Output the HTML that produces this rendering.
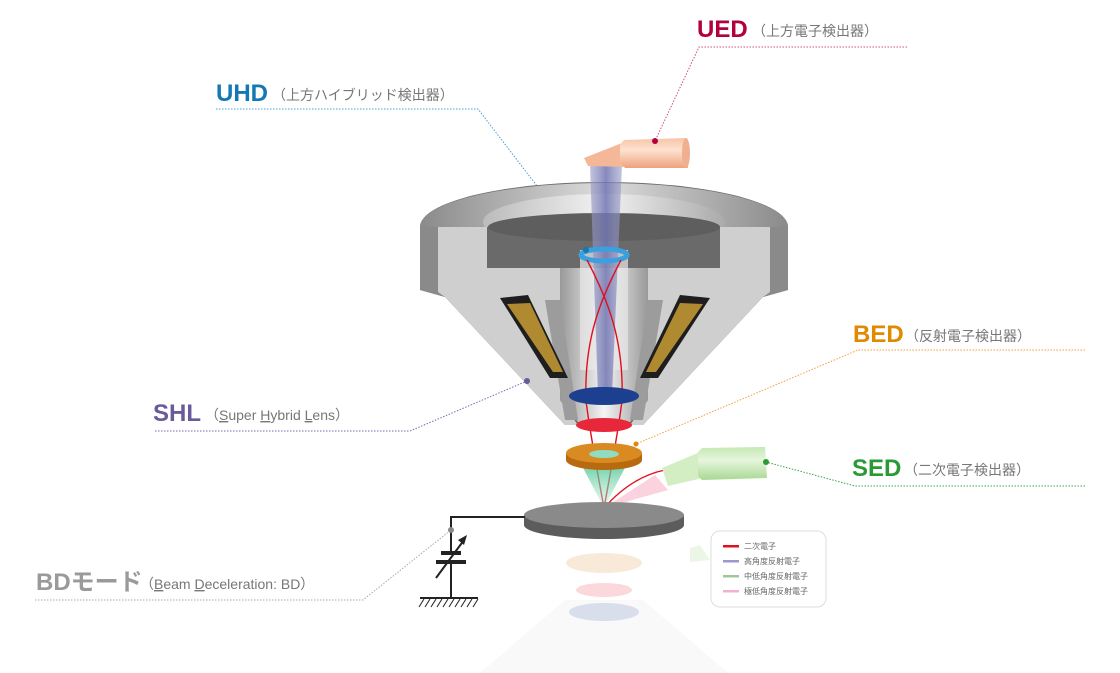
<!DOCTYPE html>
<html><head><meta charset="utf-8"><style>
html,body{margin:0;padding:0;background:#fff;}
svg{display:block;}
text{font-family:"Liberation Sans","Noto Sans CJK JP",sans-serif;}
.t{font-weight:bold;font-size:24px;}
.s{font-size:14px;fill:#777;}
.l{font-size:8px;fill:#666;}
</style></head><body>
<svg width="1120" height="673" viewBox="0 0 1120 673" xmlns="http://www.w3.org/2000/svg">
<defs>
<linearGradient id="top" x1="0" x2="1"><stop offset="0" stop-color="#8a8a8a"/><stop offset=".5" stop-color="#dcdcdc"/><stop offset="1" stop-color="#8a8a8a"/></linearGradient>
<linearGradient id="hole" x1="0" x2="1"><stop offset="0" stop-color="#bbb"/><stop offset=".5" stop-color="#f2f2f2"/><stop offset="1" stop-color="#aaa"/></linearGradient>
<linearGradient id="bore" x1="0" x2="1"><stop offset="0" stop-color="#999"/><stop offset=".5" stop-color="#f4f4f4"/><stop offset="1" stop-color="#999"/></linearGradient>
<linearGradient id="beam" x1="0" x2="1"><stop offset="0" stop-color="#9a9cc8" stop-opacity=".6"/><stop offset=".5" stop-color="#7074b0" stop-opacity=".85"/><stop offset="1" stop-color="#9a9cc8" stop-opacity=".6"/></linearGradient>
<linearGradient id="peach" x1="0" y1="0" x2="0" y2="1"><stop offset="0" stop-color="#f6c4a6"/><stop offset=".4" stop-color="#fde2d0"/><stop offset="1" stop-color="#eea27e"/></linearGradient>
<linearGradient id="grn" x1="0" y1="0" x2="0" y2="1"><stop offset="0" stop-color="#c6e8b4"/><stop offset=".4" stop-color="#e6f6dc"/><stop offset="1" stop-color="#a8d894"/></linearGradient>
<linearGradient id="cone" x1="0" y1="0" x2="0" y2="1"><stop offset="0" stop-color="#3cc08a" stop-opacity=".8"/><stop offset="1" stop-color="#bfeedd" stop-opacity=".4"/></linearGradient>
</defs>

<text x="697" y="37" class="t" fill="#b3003f">UED</text><text x="752" y="36" class="s">（上方電子検出器）</text>
<polyline points="907,47 699,47 655,141" fill="none" stroke="#d05080" stroke-width="1" stroke-dasharray="1.5,1.5"/>

<text x="216" y="101" class="t" fill="#1478b4">UHD</text><text x="272" y="100" class="s">（上方ハイブリッド検出器）</text>
<polyline points="216,109 478,109 586,250" fill="none" stroke="#4aa0d0" stroke-width="1" stroke-dasharray="1.5,1.5"/>

<text x="853" y="342" class="t" fill="#e08a00">BED</text><text x="905" y="341" class="s">（反射電子検出器）</text>
<polyline points="1085,350 858,350 636,444" fill="none" stroke="#f0a040" stroke-width="1" stroke-dasharray="1.5,1.5"/>

<text x="852" y="476" class="t" fill="#2a9a36">SED</text><text x="904" y="475" class="s">（二次電子検出器）</text>
<polyline points="1085,486 855,486 766,462" fill="none" stroke="#40a050" stroke-width="1" stroke-dasharray="1.5,1.5"/>

<text x="153" y="421" class="t" fill="#6a5a9c">SHL</text><text x="205" y="420" class="s">（<tspan text-decoration="underline">S</tspan>uper <tspan text-decoration="underline">H</tspan>ybrid <tspan text-decoration="underline">L</tspan>ens）</text>
<polyline points="155,431 410,431 527,381" fill="none" stroke="#7a6ab0" stroke-width="1" stroke-dasharray="1.5,1.5"/>

<text x="36" y="590" class="t" fill="#9a9a9a">BDモード</text><text x="140" y="589" class="s">（<tspan text-decoration="underline">B</tspan>eam <tspan text-decoration="underline">D</tspan>eceleration: BD）</text>
<polyline points="35,600 363,600 451,530" fill="none" stroke="#aaa" stroke-width="1" stroke-dasharray="1.5,1.5"/>

<!-- reflection (very faint) -->
<g opacity=".12">
<path d="M480,673 L565,600 L643,600 L728,673 Z" fill="#ccc"/>
</g>
<g opacity=".22">
<ellipse cx="604" cy="563" rx="38" ry="10" fill="#e0a050"/>
<ellipse cx="604" cy="590" rx="28" ry="7" fill="#f05060"/>
<ellipse cx="604" cy="612" rx="35" ry="9" fill="#6a80c0"/>
<path d="M690,548 L700,545 L710,560 L690,562 Z" fill="#a8d894"/>
</g>

<!-- lens body -->
<path d="M420,227 A184,45 0 0 1 788,227 L788,290 L763,297 L643,425 L565,425 L445,297 L420,290 Z" fill="#6c6c6c"/>
<ellipse cx="604" cy="227" rx="184" ry="44" fill="url(#top)"/>
<ellipse cx="604" cy="222" rx="121" ry="28" fill="url(#hole)"/>
<path d="M487,227 L487,268 L720,268 L720,227 Z" fill="#6a6a6a"/>
<ellipse cx="604" cy="227" rx="116" ry="14" fill="#5e5e5e"/>
<path d="M420,227 L487,227 L487,268 L560,268 L560,400 L578,425 L565,425 L445,297 L420,290 Z" fill="#cfcfcf"/>
<path d="M788,227 L720,227 L720,268 L648,268 L648,400 L630,425 L643,425 L763,297 L788,290 Z" fill="#cfcfcf"/>
<path d="M420,227 L438,227 L438,292 L445,297 L420,290 Z" fill="#8a8a8a"/>
<path d="M788,227 L770,227 L770,292 L763,297 L788,290 Z" fill="#8a8a8a"/>
<path d="M560,268 L648,268 L648,400 L630,422 L578,422 L560,400 Z" fill="url(#bore)"/>
<path d="M545,300 L560,300 L578,420 L565,420 Z" fill="#9c9c9c"/>
<path d="M663,300 L648,300 L630,420 L643,420 Z" fill="#9c9c9c"/>
<rect x="580" y="250" width="48" height="120" fill="#e8e8e8" opacity=".7"/>
<path d="M500,298 L528,295 L568,378 L550,378 Z" fill="#1e1e1e"/>
<path d="M507,304 L530,303 L563,372 L553,372 Z" fill="#b08a30"/>
<path d="M710,298 L680,295 L640,378 L658,378 Z" fill="#1e1e1e"/>
<path d="M703,304 L680,303 L646,372 L656,372 Z" fill="#b08a30"/>
<circle cx="527" cy="381" r="3" fill="#6a5a9c"/>

<path d="M590,165 L622,165 L612,395 L598,395 Z" fill="url(#beam)"/>
<path d="M584,158 L622,143 L628,167 L588,166 Z" fill="#f4b898"/>
<path d="M620,145 L624,140 L686,138 L688,168 L625,168 L620,162 Z" fill="url(#peach)"/>
<ellipse cx="686" cy="153" rx="4" ry="15" fill="#f0b090"/>
<circle cx="655" cy="141" r="3" fill="#b3003f"/>

<ellipse cx="604" cy="255" rx="23" ry="6" fill="none" stroke="#3aa0e0" stroke-width="5"/>
<circle cx="586" cy="250" r="3" fill="#1478b4"/>

<g fill="none" stroke="#e0101e" stroke-width="1.4">
<path d="M604,508 C597,470 588,420 586,400 C584,340 600,300 621,260"/>
<path d="M604,508 C611,470 620,420 622,400 C624,340 608,300 587,260"/>
<path d="M604,508 C620,490 640,475 665,470"/>
</g>
<ellipse cx="604" cy="396" rx="35" ry="9" fill="#1d3f8f"/>
<ellipse cx="604" cy="425" rx="28" ry="7" fill="#e8283a"/>
<path d="M580,462 L628,462 L604,508 Z" fill="url(#cone)"/>
<path d="M566,453 L566,460 A38,10 0 0 0 642,460 L642,453 Z" fill="#b86a10"/>
<ellipse cx="604" cy="453" rx="38" ry="10" fill="#d98a20"/>
<ellipse cx="604" cy="454" rx="15" ry="4" fill="#8fdcc0"/>
<circle cx="636" cy="444" r="2.5" fill="#e08a00"/>
<path d="M604,508 L655,475 L668,490 Z" fill="#f8c0d0" opacity=".7"/>
<path d="M662,468 L700,452 L703,478 L668,486 Z" fill="#d4eec4"/>
<path d="M698,452 L702,448 L765,447 L767,478 L702,480 L698,476 Z" fill="url(#grn)"/>
<circle cx="766" cy="462" r="3" fill="#2a9a36"/>

<path d="M524,515 L524,525 A80,14 0 0 0 684,525 L684,515 Z" fill="#5c5c5c"/>
<ellipse cx="604" cy="515" rx="80" ry="13" fill="#8a8a8a"/>

<g stroke="#222" stroke-width="2" fill="none">
<polyline points="525,517 451,517 451,551"/>
<line x1="451" y1="564" x2="451" y2="598"/>
<line x1="420" y1="598" x2="478" y2="598"/>
<line x1="436" y1="578" x2="464" y2="540"/>
</g>
<rect x="441" y="551" width="20" height="4" fill="#222"/>
<rect x="436" y="560" width="30" height="4" fill="#222"/>
<path d="M467,535 L458,540 L464,545 Z" fill="#222"/>
<g stroke="#222" stroke-width="1">
<line x1="424" y1="599" x2="419" y2="607"/><line x1="430" y1="599" x2="425" y2="607"/><line x1="436" y1="599" x2="431" y2="607"/><line x1="442" y1="599" x2="437" y2="607"/><line x1="448" y1="599" x2="443" y2="607"/><line x1="454" y1="599" x2="449" y2="607"/><line x1="460" y1="599" x2="455" y2="607"/><line x1="466" y1="599" x2="461" y2="607"/><line x1="472" y1="599" x2="467" y2="607"/><line x1="478" y1="599" x2="473" y2="607"/>
</g>
<circle cx="451" cy="530" r="3" fill="#888"/>

<rect x="711" y="531" width="115" height="76" rx="9" fill="#fff" stroke="#ddd"/>
<rect x="723" y="545" width="16" height="2.5" fill="#e0101e"/><text x="744" y="549" class="l">二次電子</text>
<rect x="723" y="560" width="16" height="2.5" fill="#9a98cc"/><text x="744" y="564" class="l">高角度反射電子</text>
<rect x="723" y="575" width="16" height="2.5" fill="#9cc89c"/><text x="744" y="579" class="l">中低角度反射電子</text>
<rect x="723" y="590" width="16" height="2.5" fill="#f4b0cc"/><text x="744" y="594" class="l">極低角度反射電子</text>
</svg>
</body></html>
